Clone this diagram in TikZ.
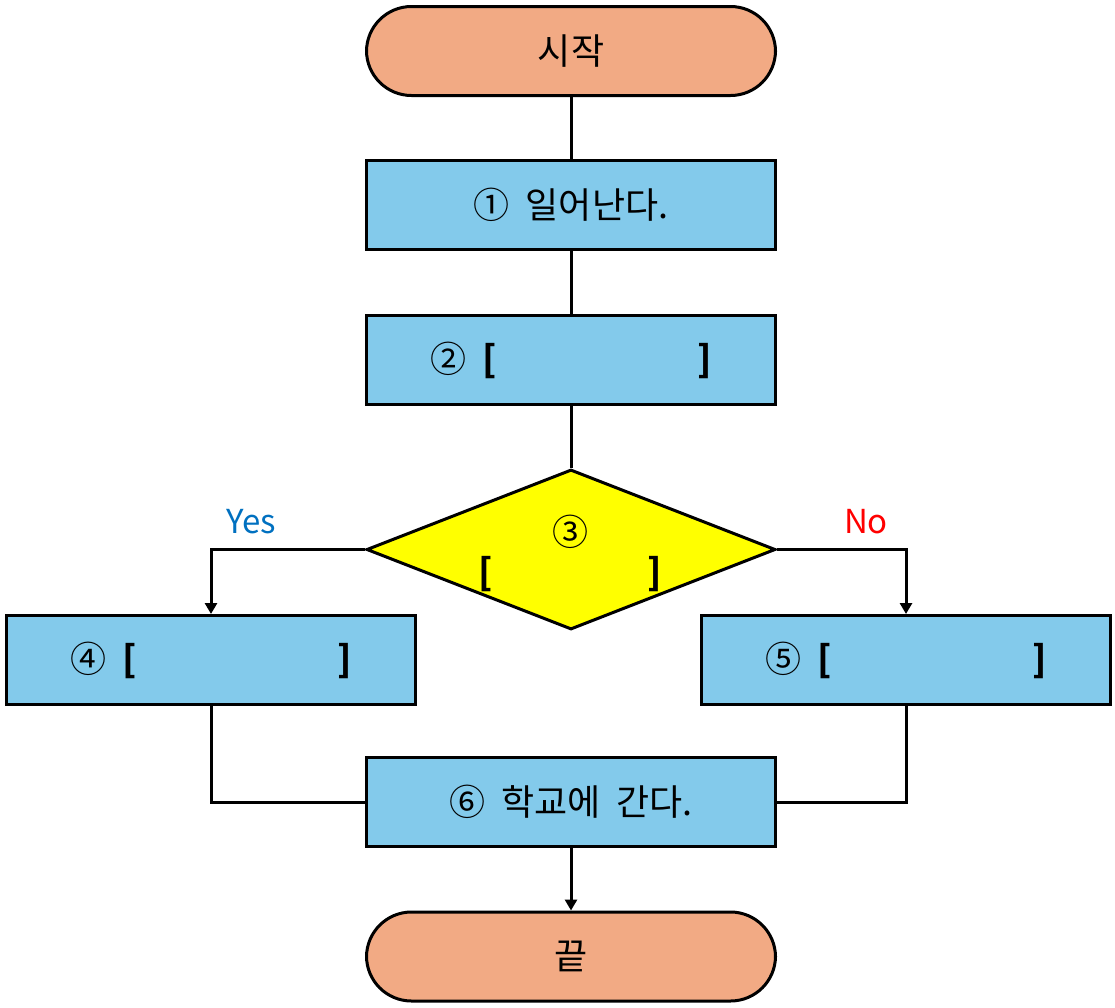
\documentclass[tikz,border=0pt]{standalone}
\usepackage{fontspec}
\setmainfont{Noto Sans CJK KR}
\usetikzlibrary{shapes.geometric,arrows.meta}
\definecolor{salmon}{HTML}{F2AA84}
\definecolor{skyb}{HTML}{83CAEB}
\definecolor{yesblue}{HTML}{0070C0}
\definecolor{ylw}{RGB}{255,255,0}
\tikzset{
  term/.style={draw,line width=3pt,fill=salmon,rounded corners=45pt,minimum width=409pt,minimum height=89pt,inner sep=0pt,font=\fontsize{36}{42}\selectfont},
  procbox/.style={draw,line width=3pt,fill=skyb,minimum width=409pt,minimum height=89pt,inner sep=0pt,font=\fontsize{36}{42}\selectfont},
  decision/.style={draw,line width=3pt,fill=ylw,diamond,minimum width=409pt,minimum height=160pt,inner sep=0pt},
  conn/.style={line width=3pt},
  arr/.style={line width=3pt,-{Triangle[width=12pt,length=11pt]}},
  lbl/.style={font=\fontsize{36}{42}\selectfont,inner sep=0pt},
  yn/.style={font=\fontsize{33}{40}\selectfont,inner sep=0pt}
}
\newcommand{\bb}[1]{\textbf{#1}}
\newcommand{\gapsp}{\hspace{0.45em}}
\begin{document}
\begin{tikzpicture}[x=1pt,y=-1pt]
\useasboundingbox (0,0) rectangle (1115,1007);
\node[term] (start) at (571,51) {시작};
\node[procbox] (b1) at (571,204.5) {①\gapsp 일어난다.};
\node[procbox] (b2) at (571,360) {②\gapsp\bb{[}\hspace{200pt}\bb{]}};
\node[decision] (dia) at (571,549.5) {};
\node[lbl] (t3) at (570,532) {③};
\node[lbl] (t3b) at (570,574) {\bb{[}\hspace{155pt}\bb{]}};
\node[procbox] (b4) at (211,660) {④\gapsp\bb{[}\hspace{200pt}\bb{]}};
\node[procbox] (b5) at (906,660) {⑤\gapsp\bb{[}\hspace{200pt}\bb{]}};
\node[procbox] (b6) at (571,802) {⑥\gapsp 학교에\gapsp 간다.};
\node[term] (end) at (571,956.5) {끝};
\node[yn,text=yesblue] (yes) at (251,522) {Yes};
\node[yn,text=red] (no) at (866,522) {No};
\draw[conn] (start) -- (b1);
\draw[conn] (b1) -- (b2);
\draw[conn] (b2) -- (dia);
\draw[arr] (dia.west) -| (b4.north);
\draw[arr] (dia.east) -| (b5.north);
\draw[conn] (b4.south) |- (b6.west);
\draw[conn] (b5.south) |- (b6.east);
\draw[arr] (b6) -- (end);
\end{tikzpicture}
\end{document}
